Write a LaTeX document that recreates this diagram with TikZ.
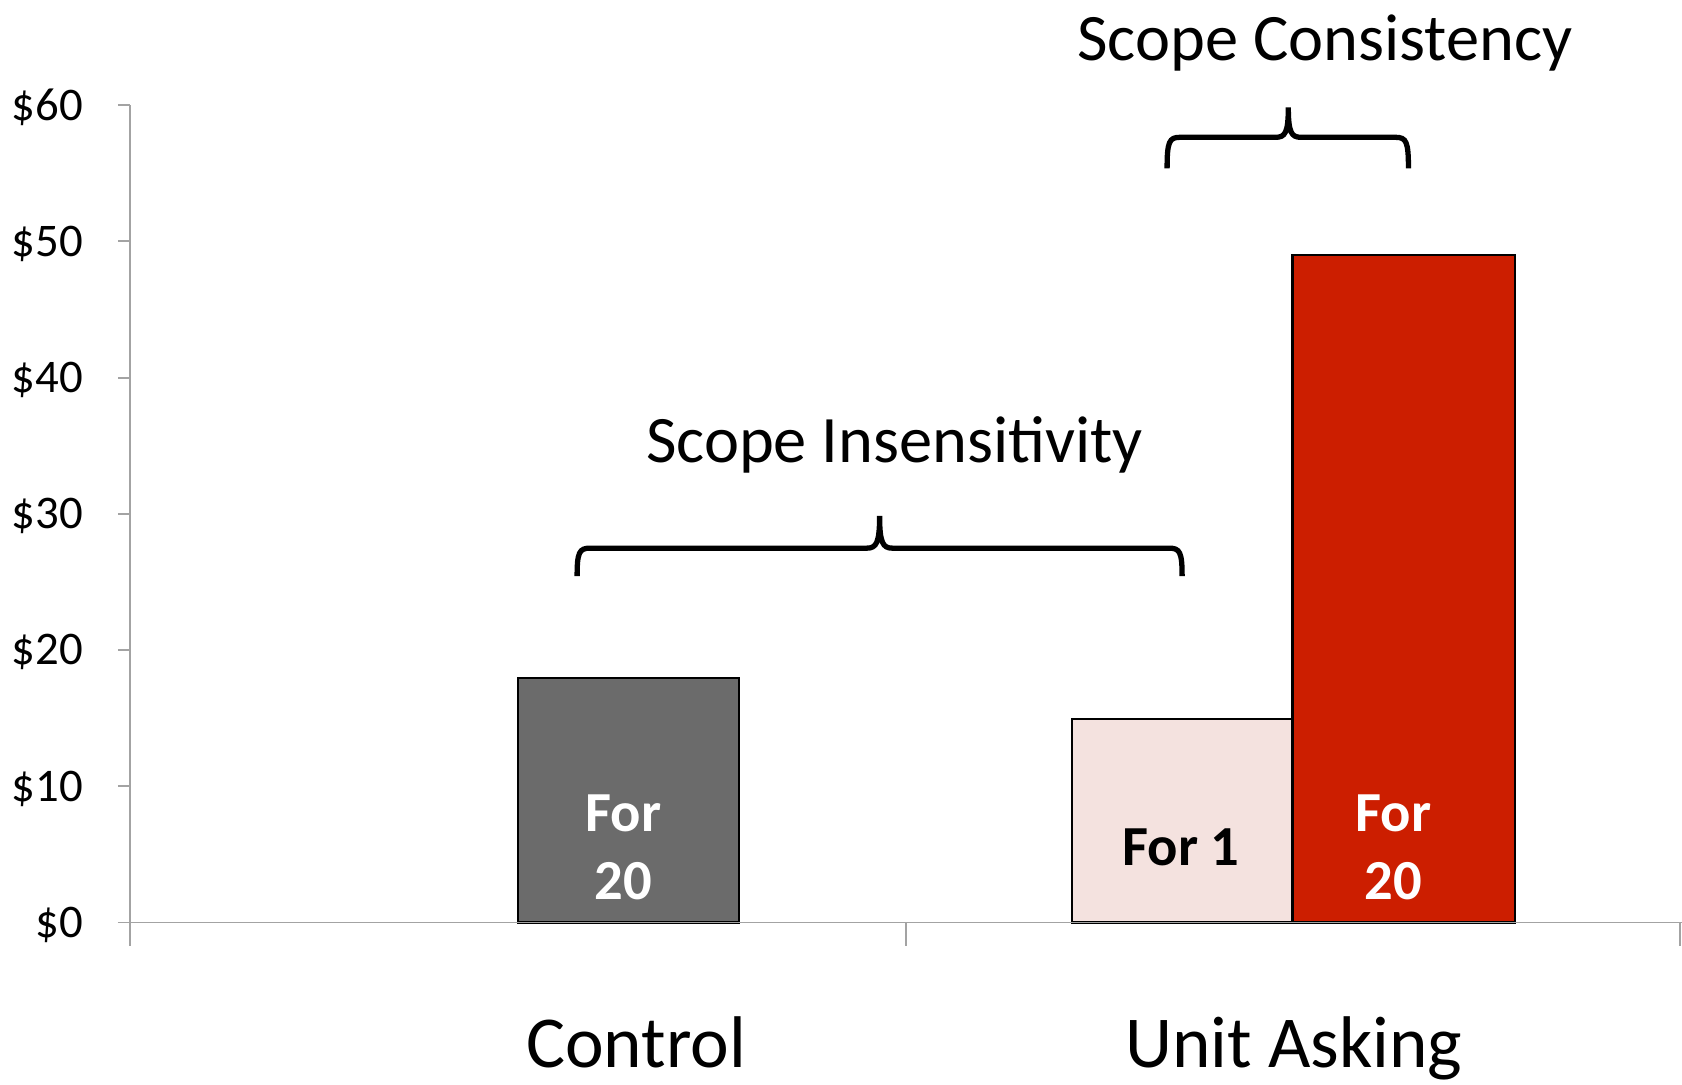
\documentclass[tikz,border=0pt]{standalone}
\usepackage{fontspec}
\setmainfont{Carlito}
\usetikzlibrary{positioning}
\definecolor{ctrlgray}{HTML}{6B6B6B}
\definecolor{onepink}{HTML}{F4E2DF}
\definecolor{twentyred}{HTML}{CC1E00}
\definecolor{axisgray}{HTML}{A3A3A3}
\begin{document}
\begin{tikzpicture}[x=0.01cm, y=-0.01cm,
        axis/.style = {draw=axisgray, line width=0.5pt},
        bar/.style = {draw=black, line width=0.6pt},
        ticklab/.style = {anchor=east, inner sep=0pt, font=\fontsize{12.4}{14}\selectfont},
        catlab/.style = {anchor=base, inner sep=0pt, font=\fontsize{19.4}{23}\selectfont},
        barlab/.style = {align=center, inner sep=0pt, font=\bfseries\fontsize{15}{18.2}\selectfont},
        bracelab/.style = {anchor=base, inner sep=0pt, font=\fontsize{17.6}{21}\selectfont},
        brace/.style = {draw=black, line width=1.4pt}]
        \useasboundingbox (0,0) rectangle (1568,1011);

        \filldraw[bar, fill=ctrlgray] (483,860) rectangle (689,632);
        \filldraw[bar, fill=onepink] (999,860) rectangle (1205,670);
        \filldraw[bar, fill=twentyred] (1205,860) rectangle (1412,238);

        \draw[axis] (121,98) -- (121,882);
        \draw[axis] (110,860) -- (1568,860);
        \draw[axis] (845,860) -- (845,882);
        \draw[axis] (1566,860) -- (1566,882);
        \foreach \v in {0,10,...,60} {
            \draw[axis] (110,{860-12.7*\v}) -- (121,{860-12.7*\v});
            \node[ticklab] (tick\v) at (78,{862-12.7*\v}) {\$\v};
        }

        \node[barlab, text=white] (ctrl20) at (581,790) {For\\20};
        \node[barlab] (unit1) at (1101,790) {For 1};
        \node[barlab, text=white] (unit20) at (1299,790) {For\\20};

        \node[catlab] (control) at (593,995) {Control};
        \node[catlab] (unitask) at (1206,995) {Unit Asking};

        \draw[brace] (538,537) .. controls (538,515) and (540,511) .. (550,511) -- (808,511)
            .. controls (817,511) and (820,506) .. (820,481)
            .. controls (820,506) and (823,511) .. (832,511) -- (1090,511)
            .. controls (1100,511) and (1102,515) .. (1102,537);
        \node[bracelab] (insens) at (834,431) {Scope Insensitivity};

        \draw[brace] (1088,157) .. controls (1088,132) and (1090,128) .. (1100,128) -- (1189,128)
            .. controls (1198,128) and (1201,124) .. (1201,100)
            .. controls (1201,124) and (1204,128) .. (1213,128) -- (1301,128)
            .. controls (1311,128) and (1313,132) .. (1313,157);
        \node[bracelab] (consist) at (1235,56) {Scope Consistency};
\end{tikzpicture}
\end{document}
